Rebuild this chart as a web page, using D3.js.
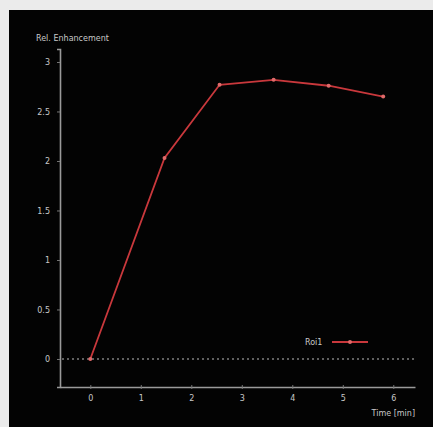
<!DOCTYPE html>
<html>
<head>
<meta charset="utf-8">
<script src="https://cdn.jsdelivr.net/npm/d3@7"></script>
<style>
  html, body { margin: 0; padding: 0; background: #ebebeb; }
  svg { display: block; }
  text { font-family: "DejaVu Sans", sans-serif; }
</style>
</head>
<body>
<svg id="chart" width="433" height="427"></svg>
<script>
// Time points (min) and relative enhancement of the ROI curve
const times = [0, 1.47, 2.56, 3.63, 4.72, 5.8];
const enhancement = [0, 2.03, 2.77, 2.82, 2.76, 2.65];
const xTicks = [0, 1, 2, 3, 4, 5, 6];
const xTickLabels = ["0", "1", "2", "3", "4", "5", "6"];
const yTicks = [0, 0.5, 1, 1.5, 2, 2.5, 3];
const yTickLabels = ["0", "0.5", "1", "1.5", "2", "2.5", "3"];
const seriesName = "Roi1";

const svg = d3.select("#chart");

// dark viewer panel
svg.append("rect")
  .attr("x", 9).attr("y", 10)
  .attr("width", 424).attr("height", 417)
  .attr("fill", "#030303");

const x = d3.scaleLinear().domain([-0.6, 6.43]).range([60, 415]);
const y = d3.scaleLinear().domain([-0.283, 3.131]).range([387, 49]);

const textColor = "#c8c8c8";
const axisColor = "#9a9a9a";

// y axis
const yAxis = svg.append("g")
  .attr("transform", `translate(${x.range()[0]},0)`)
  .call(d3.axisLeft(y).tickValues(yTicks)
    .tickFormat((d, i) => yTickLabels[i]).tickSize(3).tickPadding(7));
yAxis.select(".domain").attr("stroke", axisColor).attr("stroke-width", 1.6);
yAxis.selectAll(".tick line").attr("stroke", "#777");
yAxis.selectAll(".tick text").attr("fill", textColor).attr("font-size", 8);

// x axis
const xAxis = svg.append("g")
  .attr("transform", `translate(0,${y.range()[0]})`)
  .call(d3.axisBottom(x).tickValues(xTicks)
    .tickFormat((d, i) => xTickLabels[i]).tickSize(0).tickPadding(8));
xAxis.select(".domain").attr("stroke", axisColor).attr("stroke-width", 1.6);
xAxis.selectAll(".tick text").attr("fill", textColor).attr("font-size", 8);
xAxis.selectAll(".tick").append("line")
  .attr("y1", -2).attr("y2", 2).attr("stroke", "#777");

// axis titles
svg.append("text")
  .attr("x", 36).attr("y", 41)
  .attr("fill", textColor).attr("font-size", 8)
  .text("Rel. Enhancement");
svg.append("text")
  .attr("x", 415).attr("y", 416)
  .attr("text-anchor", "end")
  .attr("fill", textColor).attr("font-size", 8)
  .text("Time [min]");

// dotted zero line
svg.append("line")
  .attr("x1", x.range()[0] + 2).attr("x2", 414)
  .attr("y1", y(0)).attr("y2", y(0))
  .attr("stroke", "#bdbdbd").attr("stroke-width", 1.2)
  .attr("stroke-dasharray", "2,3");

// enhancement curve
const data = times.map((t, i) => ({ t, v: enhancement[i] }));
const lineColor = "#c9383c";
svg.append("path")
  .datum(data)
  .attr("fill", "none")
  .attr("stroke", lineColor)
  .attr("stroke-width", 1.8)
  .attr("d", d3.line().x(d => x(d.t)).y(d => y(d.v)));
svg.selectAll("circle.pt")
  .data(data).enter().append("circle")
  .attr("class", "pt")
  .attr("cx", d => x(d.t)).attr("cy", d => y(d.v))
  .attr("r", 2)
  .attr("fill", "#e06a6a");

// legend
const lg = svg.append("g").attr("transform", "translate(305,342)");
lg.append("text")
  .attr("x", 0).attr("y", 3)
  .attr("fill", textColor).attr("font-size", 8)
  .text(seriesName);
lg.append("line")
  .attr("x1", 27).attr("x2", 63).attr("y1", 0).attr("y2", 0)
  .attr("stroke", lineColor).attr("stroke-width", 1.8);
lg.append("circle")
  .attr("cx", 45).attr("cy", 0).attr("r", 2)
  .attr("fill", "#e06a6a");
</script>
</body>
</html>
